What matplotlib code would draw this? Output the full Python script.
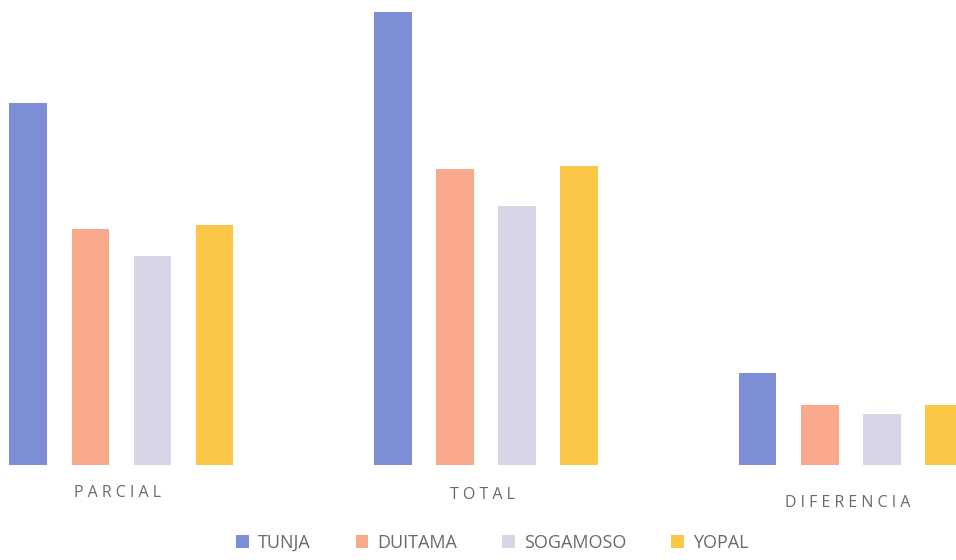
import numpy as np
from matplotlib import pyplot as plt
from matplotlib.patches import Patch

categories = ['PARCIAL', 'TOTAL', 'DIFERENCIA']
cities = ['TUNJA', 'DUITAMA', 'SOGAMOSO', 'YOPAL']
tunja = [362, 453, 92]
duitama = [236, 296, 60]
sogamoso = [209, 259, 51]
yopal = [240, 299, 60]

colors = ['#7d8dd6', '#f9aa8c', '#d6d6e6', '#fcc646']
text_color = '#6a6a6a'

plt.rcParams['font.family'] = ['Open Sans', 'DejaVu Sans']

fig = plt.figure(figsize=(9.56, 5.6), dpi=100)
ax = fig.add_axes([0, 95 / 560, 1, 465 / 560])

x = np.arange(len(categories))
width = 0.102
step = 0.17
series = [tunja, duitama, sogamoso, yopal]
for i, (name, vals) in enumerate(zip(cities, series)):
    offset = (i - 1.5) * step
    ax.bar(x + offset, vals, width, color=colors[i], label=name)

ax.set_xlim(-0.332, 2.288)
ax.set_ylim(0, 465)
ax.axis('off')

# spaced category labels under each group
label_y = [-28, -30, -38]
for xi, cat, ly in zip(x, categories, label_y):
    ax.text(xi - 0.01, ly, ' '.join(cat), ha='center', va='center',
            fontsize=11.5, color=text_color)

handles = [Patch(facecolor=c, edgecolor='none') for c in colors]
fig.legend(handles, cities, loc='center', bbox_to_anchor=(0.515, 1 - 543 / 560),
           ncol=4, frameon=False, fontsize=13, labelcolor=text_color,
           handlelength=0.7, handleheight=0.7, handletextpad=0.5,
           columnspacing=2.5)

fig.savefig('out.png', dpi=100)
